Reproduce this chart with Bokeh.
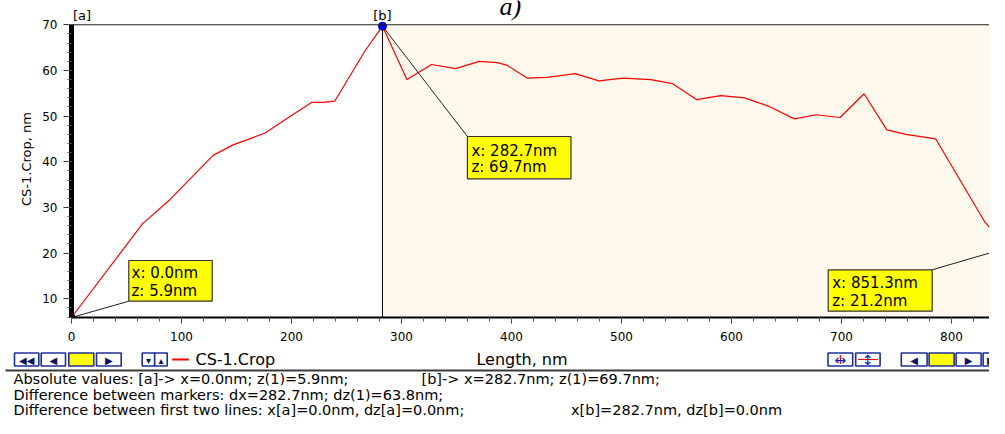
from bokeh.plotting import figure
from bokeh.layouts import column
from bokeh.models import Span, Label, BoxAnnotation, FixedTicker, Range1d
from bokeh.core.properties import value
from bokeh.embed import file_html
from bokeh.resources import INLINE

# ---------------- data ----------------
length_nm = [0.0, 64.5, 89.4, 128.7, 146.9, 165.0, 176.0, 195.5, 218.2, 228.7,
             239.4, 266.6, 282.7, 304.9, 327.4, 349.1, 370.8, 387.2, 396.2,
             414.4, 432.5, 457.8, 479.5, 501.3, 526.6, 546.5, 568.4, 590.1,
             611.8, 633.5, 657.1, 677.0, 698.7, 720.5, 741.2, 758.5, 785.7,
             830.3, 851.3]
height_nm = [5.9, 26.4, 31.7, 41.4, 43.7, 45.3, 46.3, 49.4, 53.0, 53.0,
             53.3, 64.2, 69.7, 58.0, 61.3, 60.4, 62.0, 61.7, 61.1,
             58.3, 58.5, 59.3, 57.7, 58.3, 58.0, 57.1, 53.6, 54.5,
             54.0, 52.2, 49.4, 50.3, 49.7, 54.9, 47.0, 46.0, 45.0,
             26.8, 21.2]
series_name = "CS-1.Crop"
marker_names = ["[a]", "[b]"]
marker_x = [0.0, 282.7, 851.3]
marker_z = [5.9, 69.7, 21.2]
x_ticks = [0, 100, 200, 300, 400, 500, 600, 700, 800]
x_minor = list(range(0, 861, 20))
y_ticks = [10, 20, 30, 40, 50, 60, 70]
y_minor = list(range(6, 71, 2))
x_title = "Length, nm"
y_title = "CS-1.Crop, nm"
caption = "a)"
status_line1a = "Absolute values: [a]-> x=0.0nm;  z(1)=5.9nm;"
status_line1b = "[b]-> x=282.7nm;  z(1)=69.7nm;"
status_line2 = "Difference between markers: dx=282.7nm; dz(1)=63.8nm;"
status_line3a = "Difference between first two lines: x[a]=0.0nm, dz[a]=0.0nm;"
status_line3b = "x[b]=282.7nm, dz[b]=0.0nm"

# ---------------- layout ----------------
W = 989
HA, HB = 350, 68
ML, MBA = 71, 33
FL, FR, FT, FB = ML, W, 0, HA - MBA          # frame of the main plot (pixels)
PX_PER_NM = 1.1
PX_PER_Z = 4.5667
X0 = 0.0
X1 = X0 + (FR - FL) / PX_PER_NM
Y0 = 5.9
Y1 = Y0 + (FB - FT) / PX_PER_Z
Z_TOP = 70.0


def dx(px):
    return X0 + (px - FL) * (X1 - X0) / (FR - FL)


def dy(py):
    return Y0 + (FB - py) * (Y1 - Y0) / (FB - FT)


FONT = "DejaVu Sans"
NAVY = "#1f2f9a"

p = figure(width=W, height=HA, x_range=Range1d(X0, X1), y_range=Range1d(Y0, Y1),
           output_backend="svg", toolbar_location=None, title=None,
           min_border_left=ML, min_border_right=0, min_border_top=0,
           min_border_bottom=MBA, outline_line_color=None,
           background_fill_color="white", border_fill_color="white")
p.xgrid.visible = False
p.ygrid.visible = False

# shaded region right of marker [b]
p.add_layout(BoxAnnotation(left=marker_x[1], top=Z_TOP, fill_color="#FFF8EC",
                           fill_alpha=1, line_color=None, level="underlay"))

# axes
p.yaxis.ticker = FixedTicker(ticks=y_ticks, minor_ticks=y_minor)
p.xaxis.ticker = FixedTicker(ticks=x_ticks, minor_ticks=x_minor)
for ax in (p.xaxis[0], p.yaxis[0]):
    ax.major_tick_in = 0
    ax.minor_tick_in = 0
    ax.major_tick_line_color = "#333333"
    ax.minor_tick_line_color = "#555555"
    ax.major_label_text_font = FONT
    ax.major_label_text_font_size = "12px"
    ax.major_label_text_color = "black"
    ax.axis_label_text_font = FONT
    ax.axis_label_text_font_style = "normal"
    ax.axis_label_text_color = "black"
    ax.axis_line_color = "black"

p.yaxis.axis_label = y_title
p.yaxis.bounds = (Y0, Z_TOP)
p.yaxis.axis_line_width = 5
p.yaxis.major_tick_out = 8
p.yaxis.minor_tick_out = 4
p.yaxis.major_label_standoff = 6
p.yaxis.axis_label_text_font_size = "13px"
p.yaxis.axis_label_standoff = 5

p.xaxis.axis_line_width = 2
p.xaxis.major_tick_out = 6
p.xaxis.minor_tick_out = 4
p.xaxis.major_label_standoff = 8

# top border of the plotting area and marker [b] line
p.add_layout(Span(location=Z_TOP, dimension="width", line_color="#222222",
                  line_width=1.2))
p.segment(x0=[marker_x[1]], y0=[Y0], x1=[marker_x[1]], y1=[Z_TOP],
          line_color="black", line_width=1)

# profile
r = p.line(length_nm, height_nm, line_color="#FF0000", line_width=1.2)

# leader lines from markers to their value boxes
lead_x = [dx(128.3), dx(466.9), dx(931.7)]
lead_y = [dy(300.7), dy(136.0), dy(269.3)]
p.segment(x0=marker_x, y0=marker_z, x1=lead_x, y1=lead_y, line_color="#222222",
          line_width=1)

p.scatter([marker_x[0]], [marker_z[0]], size=7, fill_color="black", line_color="black")
p.scatter([marker_x[1]], [marker_z[1]], size=8, fill_color="#0000FF",
          line_color="#000080")


def label(x, y, s, size="14px", color="black", align="left", baseline="middle",
          font=FONT, style="normal"):
    p.add_layout(Label(x=x, y=y, text=s, text_font=font, text_font_size=size,
                       text_color=color, text_align=align, text_baseline=baseline,
                       text_font_style=style, level="annotation"))


# value boxes
boxes = [(128.3, 211.7, 260.0, 300.7, 131.0, 272.7, 290.7),
         (466.9, 570.5, 136.0, 178.3, 470.9, 150.0, 166.7),
         (827.7, 931.7, 269.3, 310.7, 831.7, 282.7, 300.7)]
for i, (bx0, bx1, by0, by1, tx, ty1, ty2) in enumerate(boxes):
    p.add_layout(BoxAnnotation(left=dx(bx0), right=dx(bx1), top=dy(by0),
                               bottom=dy(by1), fill_color="#FFFF00", fill_alpha=1,
                               line_color="#333333", line_alpha=1, line_width=1.2,
                               level="annotation"))
    label(dx(tx), dy(ty1), "x: %.1fnm" % marker_x[i], size="15px")
    label(dx(tx), dy(ty2), "z: %.1fnm" % marker_z[i], size="15px")

# marker tags above the plotting area
label(dx(72.5), dy(22.5), marker_names[0], size="13px", align="left",
      baseline="bottom")
label(marker_x[1], dy(22.5), marker_names[1], size="13px", align="center",
      baseline="bottom")

# cropped panel caption
label(dx(499), dy(20), caption, size="26px", font="Liberation Serif",
      style="italic", baseline="bottom")

# ---------------- status / control strip ----------------
q = figure(width=W, height=HB, x_range=Range1d(0, W), y_range=Range1d(HA + HB, HA),
           output_backend="svg", toolbar_location=None, title=None,
           x_axis_type=None, y_axis_type=None, min_border=0,
           outline_line_color=None, background_fill_color="white",
           border_fill_color="white")
q.xgrid.visible = False
q.ygrid.visible = False
for fig in (p, q):
    if "frame_align" in fig.properties():
        fig.frame_align = False

BY0, BY1 = 352.5, 365.5
BYC = (BY0 + BY1) / 2
buttons = [(14.0, 38.3, "\u25c0\u25c0", "white"), (40.7, 65.0, "\u25c0", "white"),
           (68.3, 93.3, "", "#FFFF00"), (96.0, 120.7, "\u25b6", "white"),
           (141.7, 154.2, "\u25be", "white"), (154.2, 166.7, "\u25b4", "white"),
           (827.5, 852.2, "", "white"), (855.2, 879.6, "", "white"),
           (900.8, 926.6, "\u25c0", "white"), (928.6, 953.6, "", "#FFFF00"),
           (955.6, 980.6, "\u25b6", "white"), (982.6, 1006.0, "\u25b6\u25b6", "white")]
q.quad(left=[b[0] for b in buttons], right=[b[1] for b in buttons],
       top=[BY0] * len(buttons), bottom=[BY1] * len(buttons),
       fill_color=[b[3] for b in buttons], line_color=NAVY, line_width=1.6)
arrows = [b for b in buttons if b[2]]
q.text(x=[(b[0] + b[1]) / 2 for b in arrows], y=[BYC + 0.5] * len(arrows),
       text=[b[2] for b in arrows], text_font=value(FONT), text_font_size="10px",
       text_color="#101060", text_align="center", text_baseline="middle")
# zoom tool icons
q.quad(left=[839.3, 857.5], right=[840.6, 877.3], top=[BY0 + 2, BYC - 0.6],
       bottom=[BY1 - 2, BYC + 0.6], fill_color="#FF0000", line_color=None)
q.text(x=[839.9, 867.4], y=[BYC, BYC], text=["\u2194", "\u2195"],
       text_font=value(FONT), text_font_size="14px", text_color="#1020c0",
       text_align="center", text_baseline="middle")

# legend entry and axis title row
q.segment(x0=[171.7], y0=[BYC], x1=[188.3], y1=[BYC], line_color="#FF0000",
          line_width=2)
q.text(x=[195.0], y=[BYC], text=[series_name], text_font=value(FONT),
       text_font_size="16px", text_baseline="middle")
q.text(x=[521.5], y=[BYC], text=[x_title], text_font=value(FONT),
       text_font_size="16px", text_align="center", text_baseline="middle")

# separator
q.quad(left=[5.0], right=[W], top=[369.0], bottom=[371.0], fill_color="#3a3a3a",
       line_color=None)

# status lines
q.text(x=[13.0, 421.0, 13.0, 13.0, 570.5], y=[378.5, 378.5, 394.0, 409.5, 409.5],
       text=[status_line1a, status_line1b, status_line2, status_line3a, status_line3b],
       text_font=value(FONT), text_font_size="14.5px", text_color="black",
       text_baseline="middle")

open("out.html", "w").write(file_html(column(p, q, spacing=0), INLINE))
